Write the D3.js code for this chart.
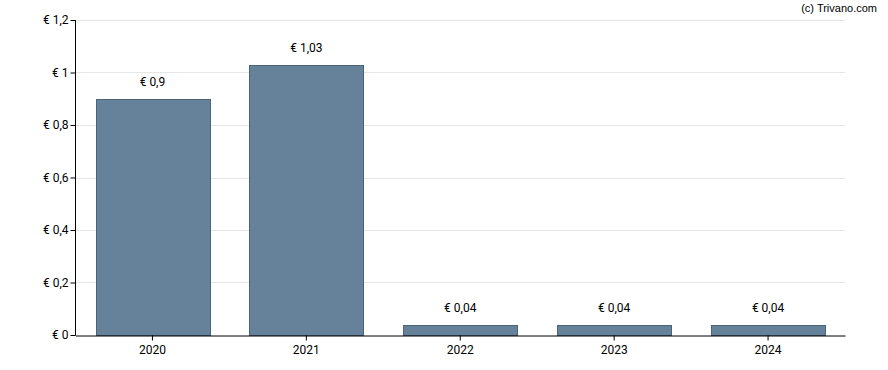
<!DOCTYPE html>
<html>
<head>
<meta charset="utf-8">
<script src="https://cdn.jsdelivr.net/npm/d3@7"></script>
<style>
  body { margin: 0; background: #fff; }
  svg text { font-family: Roboto, "Liberation Sans", sans-serif; font-size: 12px; fill: #000; }
  .credit { font-family: "Liberation Sans", Arial, sans-serif; font-size: 11px; }
</style>
</head>
<body>
<div id="container"></div>
<script>
const years = ["2020", "2021", "2022", "2023", "2024"];
const values = [0.9, 1.03, 0.04, 0.04, 0.04];
const yTicks = [0, 0.2, 0.4, 0.6, 0.8, 1, 1.2];

const w = 888;
const h = 370;
const plotLeft = 75.5;
const plotRight = 845;
const plotTop = 20;
const plotBottom = 335;

const fmt = (v) => "€ " + String(v).replace(".", ",");

const xScale = d3.scaleBand()
  .domain(years)
  .range([plotLeft, plotRight])
  .paddingInner(0.26)
  .paddingOuter(0.13);

const yScale = d3.scaleLinear()
  .domain([0, 1.2])
  .range([plotBottom, plotTop]);

const svg = d3.select("div#container")
  .append("svg")
  .attr("width", w)
  .attr("height", h);

// grid lines
svg.append("g")
  .selectAll("line")
  .data(yTicks.filter(d => d > 0))
  .enter()
  .append("line")
  .attr("x1", plotLeft)
  .attr("x2", plotRight)
  .attr("y1", d => Math.round(yScale(d)) + 0.5)
  .attr("y2", d => Math.round(yScale(d)) + 0.5)
  .attr("stroke", "#e6e6e6")
  .attr("stroke-width", 1);

svg.selectAll("rect.bar")
  .data(values)
  .enter()
  .append("rect")
  .classed("bar", true)
  .attr("x", (d, i) => Math.round(xScale(years[i])) + 0.5)
  .attr("y", d => Math.round(yScale(d)) + 0.5)
  .attr("width", Math.round(xScale.bandwidth()))
  .attr("height", d => plotBottom - Math.round(yScale(d)))
  .attr("fill", "#66829a")
  .attr("stroke", "#4a6479")
  .attr("stroke-width", 1);

svg.selectAll("text.val")
  .data(values)
  .enter()
  .append("text")
  .classed("val", true)
  .attr("x", (d, i) => xScale(years[i]) + xScale.bandwidth() / 2)
  .attr("y", d => yScale(d) - 13)
  .attr("text-anchor", "middle")
  .text(d => fmt(d));

const yAxis = d3.axisLeft(yScale)
  .tickValues(yTicks)
  .tickSize(5)
  .tickFormat(fmt);

const xAxis = d3.axisBottom(xScale)
  .tickSize(5)
  .tickSizeOuter(0);

const gy = svg.append("g")
  .attr("transform", "translate(" + plotLeft + ",0)")
  .call(yAxis);
gy.select(".domain").attr("d", "M0," + plotTop + "V" + (plotBottom + 0.5));
gy.selectAll("text").attr("x", -7).style("font-size", "12px");

const gx = svg.append("g")
  .attr("transform", "translate(0," + (plotBottom + 0.5) + ")")
  .call(xAxis);
gx.selectAll("text").attr("y", 10).style("font-size", "12px");
gx.selectAll("path, line").attr("stroke", "#000");
gy.selectAll("path, line").attr("stroke", "#000");

svg.append("text")
  .attr("class", "credit")
  .attr("x", 877)
  .attr("y", 12)
  .attr("text-anchor", "end")
  .text("(c) Trivano.com");
</script>
</body>
</html>
